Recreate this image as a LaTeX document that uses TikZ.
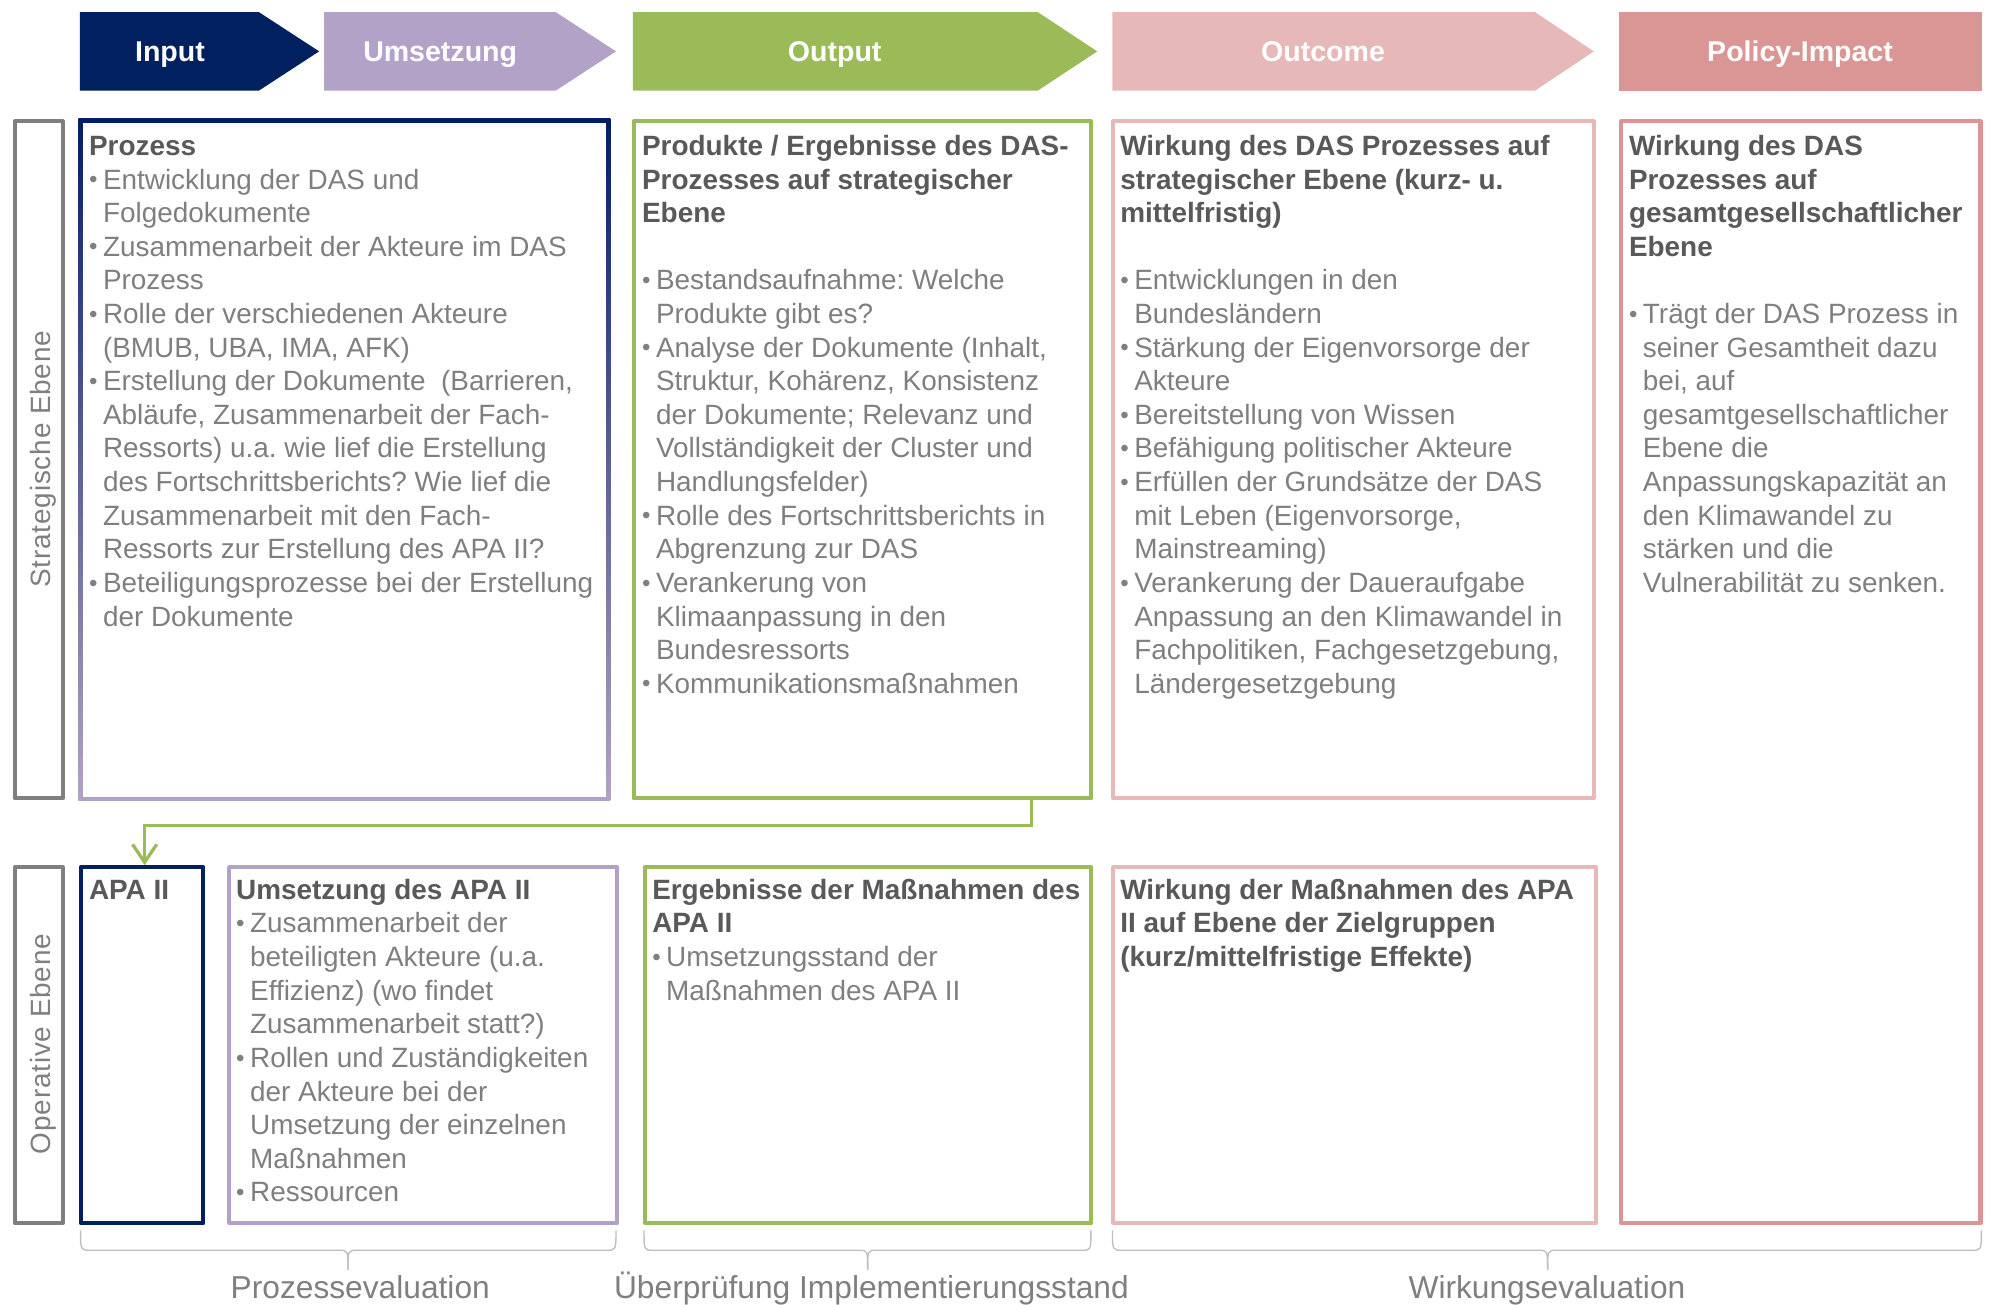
\documentclass[tikz,border=0pt]{standalone}
\usepackage{fontspec}
\setmainfont{Liberation Sans}
\newfontfamily\spacedfont[LetterSpace=3]{Liberation Sans}
\usetikzlibrary{arrows.meta,calc}
\frenchspacing
\definecolor{navy}{HTML}{002060}
\definecolor{lav}{HTML}{B3A2C7}
\definecolor{grn}{HTML}{9BBB59}
\definecolor{pinkc}{HTML}{E6B9B8}
\definecolor{rosec}{HTML}{D99694}
\definecolor{frmgray}{HTML}{7F7F7F}
\definecolor{titlegray}{HTML}{595959}
\definecolor{bodygray}{HTML}{7F7F7F}
\definecolor{bracegray}{HTML}{BFBFBF}
\newcommand\ttl[1]{\textcolor{titlegray}{\bfseries #1}}
\newcommand\bu{\makebox[11pt][l]{\raisebox{1pt}{\fontsize{19}{19}\selectfont •}}}
\newcommand\ct{\hspace*{11pt}}
\tikzset{
  frame/.style={line width=3.3pt, line join=round, inner sep=0pt, fill=white},
  hdr/.style={font=\fontsize{22.5}{26.5}\selectfont\bfseries, text=white, inner sep=0pt, anchor=base},
  boxtxt/.style={anchor=base west, inner sep=0pt, font=\fontsize{22}{26.5}\selectfont\frenchspacing, text=bodygray},
  sidelbl/.style={rotate=90, anchor=base, inner sep=0pt, font=\fontsize{22}{26}\spacedfont, text=frmgray},
  bottomlbl/.style={anchor=base, inner sep=0pt, font=\fontsize{25}{29}\selectfont, text=bodygray},
  bracepath/.style={draw=bracegray, line width=1.1pt},
  flowarrow/.style={draw=grn, line width=2.6pt, -{Straight Barb[length=14pt,width=19pt,line width=2.6pt]}},
}
\begin{document}
\begin{tikzpicture}[x=1pt,y=-1pt]
\useasboundingbox (0,0) rectangle (1568,1028);
% ---------- header chevrons ----------
\fill[navy]  (63,9.5) -- (204,9.5) -- (251.6,40.5) -- (204,71.5) -- (63,71.5) -- cycle;
\fill[lav]   (255.5,9.5) -- (438,9.5) -- (485.6,40.5) -- (438,71.5) -- (255.5,71.5) -- cycle;
\fill[grn]   (499,9.5) -- (818,9.5) -- (865,40.5) -- (818,71.5) -- (499,71.5) -- cycle;
\fill[pinkc] (877,9.5) -- (1210,9.5) -- (1256.5,40.5) -- (1210,71.5) -- (877,71.5) -- cycle;
\fill[rosec] (1276,9.5) rectangle (1562.5,71.5);
\node[hdr] (hInput) at (134,48.8) {Input};
\node[hdr] (hUms) at (347,48.8) {Umsetzung};
\node[hdr] (hOut) at (658,48.8) {Output};
\node[hdr] (hOutc) at (1043,48.8) {Outcome};
\node[hdr] (hPol) at (1419,48.8) {Policy-Impact};
% ---------- side labels ----------
\node[frame, draw=frmgray, minimum width=37.7pt, minimum height=533.7pt] (strat) at (30.5,362.5) {};
\node[frame, draw=frmgray, minimum width=37.7pt, minimum height=280.7pt] (oper) at (30.5,824) {};
\node[sidelbl] (stratlbl) at (39.5,362) {Strategische Ebene};
\node[sidelbl] (operlbl) at (39.5,823) {Operative Ebene};
% ---------- strategic row ----------
\node[inner sep=0pt, minimum width=419pt, minimum height=537pt] (proz) at (271.5,362.5) {};
\shade[top color=navy, bottom color=lav] (proz.north west) rectangle (proz.south east);
\fill[white] ($(proz.north west)+(3.3,3.3)$) rectangle ($(proz.south east)+(-3.3,-3.3)$);
\node[frame, draw=grn, minimum width=360.7pt, minimum height=533.7pt] (outbox) at (680,362.5) {};
\node[frame, draw=pinkc, minimum width=378.7pt, minimum height=533.7pt] (outcbox) at (1067,362.5) {};
\node[frame, draw=rosec, minimum width=283.7pt, minimum height=868.7pt] (polbox) at (1419.5,530) {};
% ---------- operative row ----------
\node[frame, draw=navy, minimum width=96.7pt, minimum height=280.7pt] (apa) at (112,824) {};
\node[frame, draw=lav, minimum width=305.7pt, minimum height=280.7pt] (umsapa) at (333.5,824) {};
\node[frame, draw=grn, minimum width=351.7pt, minimum height=280.7pt] (erg) at (684.5,824) {};
\node[frame, draw=pinkc, minimum width=380.7pt, minimum height=280.7pt] (wirk) at (1068,824) {};
% ---------- texts ----------
\node[boxtxt] (tproz) at (70,122.5) {\begin{tabular}[t]{@{}l@{}}
\ttl{Prozess}\\
\bu Entwicklung der DAS und\\
\ct Folgedokumente\\
\bu Zusammenarbeit der Akteure im DAS\\
\ct Prozess\\
\bu Rolle der verschiedenen Akteure\\
\ct (BMUB, UBA, IMA, AFK)\\
\bu Erstellung der Dokumente\ \ (Barrieren,\\
\ct Abläufe, Zusammenarbeit der Fach-\\
\ct Ressorts) u.a. wie lief die Erstellung\\
\ct des Fortschrittsberichts? Wie lief die\\
\ct Zusammenarbeit mit den Fach-\\
\ct Ressorts zur Erstellung des APA II?\\
\bu Beteiligungsprozesse bei der Erstellung\\
\ct der Dokumente
\end{tabular}};
\node[boxtxt] (tout) at (506,122.5) {\begin{tabular}[t]{@{}l@{}}
\ttl{Produkte / Ergebnisse des DAS-}\\
\ttl{Prozesses auf strategischer}\\
\ttl{Ebene}\\
\mbox{}\\
\bu Bestandsaufnahme: Welche\\
\ct Produkte gibt es?\\
\bu Analyse der Dokumente (Inhalt,\\
\ct Struktur, Kohärenz, Konsistenz\\
\ct der Dokumente; Relevanz und\\
\ct Vollständigkeit der Cluster und\\
\ct Handlungsfelder)\\
\bu Rolle des Fortschrittsberichts in\\
\ct Abgrenzung zur DAS\\
\bu Verankerung von\\
\ct Klimaanpassung in den\\
\ct Bundesressorts\\
\bu Kommunikationsmaßnahmen
\end{tabular}};
\node[boxtxt] (toutc) at (883,122.5) {\begin{tabular}[t]{@{}l@{}}
\ttl{Wirkung des DAS Prozesses auf}\\
\ttl{strategischer Ebene (kurz- u.}\\
\ttl{mittelfristig)}\\
\mbox{}\\
\bu Entwicklungen in den\\
\ct Bundesländern\\
\bu Stärkung der Eigenvorsorge der\\
\ct Akteure\\
\bu Bereitstellung von Wissen\\
\bu Befähigung politischer Akteure\\
\bu Erfüllen der Grundsätze der DAS\\
\ct mit Leben (Eigenvorsorge,\\
\ct Mainstreaming)\\
\bu Verankerung der Daueraufgabe\\
\ct Anpassung an den Klimawandel in\\
\ct Fachpolitiken, Fachgesetzgebung,\\
\ct Ländergesetzgebung
\end{tabular}};
\node[boxtxt] (tpol) at (1284,122.5) {\begin{tabular}[t]{@{}l@{}}
\ttl{Wirkung des DAS}\\
\ttl{Prozesses auf}\\
\ttl{gesamtgesellschaftlicher}\\
\ttl{Ebene}\\
\mbox{}\\
\bu Trägt der DAS Prozess in\\
\ct seiner Gesamtheit dazu\\
\ct bei, auf\\
\ct gesamtgesellschaftlicher\\
\ct Ebene die\\
\ct Anpassungskapazität an\\
\ct den Klimawandel zu\\
\ct stärken und die\\
\ct Vulnerabilität zu senken.
\end{tabular}};
\node[boxtxt] (tapa) at (70,709) {\ttl{APA II}};
\node[boxtxt] (tumsapa) at (186,709) {\begin{tabular}[t]{@{}l@{}}
\ttl{Umsetzung des APA II}\\
\bu Zusammenarbeit der\\
\ct beteiligten Akteure (u.a.\\
\ct Effizienz) (wo findet\\
\ct Zusammenarbeit statt?)\\
\bu Rollen und Zuständigkeiten\\
\ct der Akteure bei der\\
\ct Umsetzung der einzelnen\\
\ct Maßnahmen\\
\bu Ressourcen
\end{tabular}};
\node[boxtxt] (terg) at (514,709) {\begin{tabular}[t]{@{}l@{}}
\ttl{Ergebnisse der Maßnahmen des}\\
\ttl{APA II}\\
\bu Umsetzungsstand der\\
\ct Maßnahmen des APA II
\end{tabular}};
\node[boxtxt] (twirk) at (883,709) {\begin{tabular}[t]{@{}l@{}}
\ttl{Wirkung der Maßnahmen des APA}\\
\ttl{II auf Ebene der Zielgruppen}\\
\ttl{(kurz/mittelfristige Effekte)}
\end{tabular}};
% ---------- flow arrow ----------
\coordinate (bend) at (114,651);
\draw[flowarrow] ($(outbox.south west)+(315,0)$) |- (bend) -- (bend |- apa.north);
% ---------- braces ----------
\draw[bracepath] (63.5,970) .. controls (63.5,985.6) .. (71,985.6) -- (267,985.6) .. controls (274.3,985.6) .. (274.3,1001);
\draw[bracepath] (274.3,1001) .. controls (274.3,985.6) .. (281.6,985.6) -- (478,985.6) .. controls (485.6,985.6) .. (485.6,970);
\draw[bracepath] (507.7,970) .. controls (507.7,985.6) .. (515,985.6) -- (677,985.6) .. controls (684,985.6) .. (684,1001);
\draw[bracepath] (684,1001) .. controls (684,985.6) .. (691,985.6) -- (853,985.6) .. controls (860,985.6) .. (860,970);
\draw[bracepath] (877,970) .. controls (877,985.6) .. (884.5,985.6) -- (1212.5,985.6) .. controls (1220,985.6) .. (1220,1001);
\draw[bracepath] (1220,1001) .. controls (1220,985.6) .. (1227.5,985.6) -- (1554.5,985.6) .. controls (1562,985.6) .. (1562,970);
\node[bottomlbl] (lProz) at (284,1023.5) {Prozessevaluation};
\node[bottomlbl] (lImpl) at (687,1023.5) {Überprüfung Implementierungsstand};
\node[bottomlbl] (lWirk) at (1219.5,1023.5) {Wirkungsevaluation};
\end{tikzpicture}
\end{document}
